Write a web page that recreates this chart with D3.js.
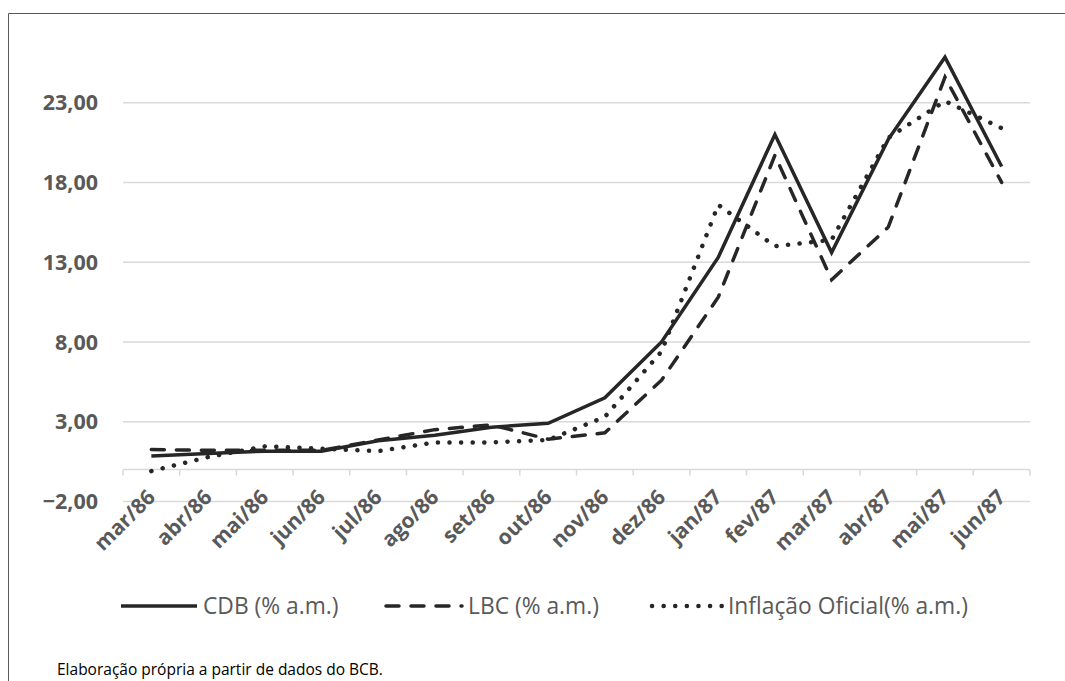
<!DOCTYPE html>
<html>
<head>
<meta charset="utf-8">
<script src="https://cdn.jsdelivr.net/npm/d3@7"></script>
<style>
  body { margin: 0; background: #fff; }
  svg { display: block; }
</style>
</head>
<body>
<svg id="chart" width="1065" height="681"></svg>
<script>
// meses (mar/86 - jun/87)
const months = ['mar/86', 'abr/86', 'mai/86', 'jun/86', 'jul/86', 'ago/86', 'set/86', 'out/86',
  'nov/86', 'dez/86', 'jan/87', 'fev/87', 'mar/87', 'abr/87', 'mai/87', 'jun/87'];

// % a.m.
const cdb = [0.85, 1.0, 1.15, 1.15, 1.8, 2.15, 2.65, 2.9, 4.5, 8.0, 13.3, 21.0, 13.6, 20.7, 25.85, 19.0];
const lbc = [1.25, 1.2, 1.2, 1.2, 1.85, 2.5, 2.8, 1.9, 2.3, 5.6, 10.8, 19.7, 11.9, 15.2, 24.6, 18.0];
const inflacao = [-0.1, 0.78, 1.45, 1.3, 1.15, 1.7, 1.7, 1.85, 3.3, 7.4, 16.6, 14.0, 14.4, 20.8, 23.1, 21.4];

const yTicks = [-2, 3, 8, 13, 18, 23];

const seriesNames = ['CDB (% a.m.)', 'LBC (% a.m.)', 'Inflação Oficial(% a.m.)'];

const svg = d3.select('#chart');
const textColor = '#595959';
const lineColor = '#262626';
const gridColor = '#d9d9d9';

// moldura
svg.append('path')
  .attr('d', 'M8.5,681 V13.5 H1065')
  .attr('fill', 'none')
  .attr('stroke', '#595959')
  .attr('stroke-width', 1);

const x = d3.scaleBand()
  .domain(months)
  .range([123, 1030]);

const y = d3.scaleLinear()
  .domain([-2, 27])
  .range([501.4, 38.9]);

const cx = d => x(d) + x.bandwidth() / 2;

// grade
svg.append('g')
  .selectAll('line')
  .data(yTicks)
  .enter()
  .append('line')
  .attr('x1', x.range()[0])
  .attr('x2', x.range()[1])
  .attr('y1', d => y(d))
  .attr('y2', d => y(d))
  .attr('stroke', gridColor)
  .attr('stroke-width', 1.5);

svg.append('g')
  .selectAll('text')
  .data(yTicks)
  .enter()
  .append('text')
  .attr('x', 98)
  .attr('y', d => y(d))
  .attr('dy', '0.36em')
  .attr('text-anchor', 'end')
  .attr('font-family', 'Open Sans')
  .attr('font-weight', 'bold')
  .attr('font-size', 21.5)
  .attr('fill', textColor)
  .text(d => d3.format('.2f')(d).replace('.', ','));

// eixo horizontal no zero
const axis = svg.append('g');
axis.append('line')
  .attr('x1', x.range()[0])
  .attr('x2', x.range()[1])
  .attr('y1', y(0))
  .attr('y2', y(0))
  .attr('stroke', gridColor)
  .attr('stroke-width', 1.5);

axis.selectAll('.tick')
  .data(months.map(m => x(m)).concat([x.range()[1]]))
  .enter()
  .append('line')
  .attr('class', 'tick')
  .attr('x1', d => d)
  .attr('x2', d => d)
  .attr('y1', y(0))
  .attr('y2', y(0) + 6)
  .attr('stroke', gridColor)
  .attr('stroke-width', 1.5);

// rotulos dos meses
svg.append('g')
  .selectAll('text')
  .data(months)
  .enter()
  .append('text')
  .attr('transform', d => `translate(${cx(d) - 6},${y(-2) - 14}) rotate(-45)`)
  .attr('dy', '0.75em')
  .attr('text-anchor', 'end')
  .attr('font-family', 'Open Sans')
  .attr('font-weight', 'bold')
  .attr('font-size', 21)
  .attr('fill', textColor)
  .text(d => d);

const styles = [
  { width: 3.5, dash: null, cap: 'butt' },
  { width: 3.5, dash: '13 12', cap: 'round' },
  { width: 4.5, dash: '0.1 11.5', cap: 'round' },
];

const line = d3.line()
  .x((d, i) => cx(months[i]))
  .y(d => y(d));

[cdb, lbc, inflacao].forEach((serie, k) =>
{
  svg.append('path')
    .datum(serie)
    .attr('fill', 'none')
    .attr('stroke', lineColor)
    .attr('stroke-width', styles[k].width)
    .attr('stroke-linejoin', 'miter')
    .attr('stroke-linecap', styles[k].cap)
    .attr('stroke-dasharray', styles[k].dash)
    .attr('d', line);
});

// legenda
const legendX = [121, 386, 650];
const legendW = [76, 76, 72];
const legendY = 606;
const legend = svg.append('g');
seriesNames.forEach((name, k) =>
{
  legend.append('line')
    .attr('x1', legendX[k] + (k === 2 ? 2 : 0))
    .attr('x2', legendX[k] + legendW[k])
    .attr('y1', legendY)
    .attr('y2', legendY)
    .attr('stroke', lineColor)
    .attr('stroke-width', styles[k].width)
    .attr('stroke-linecap', styles[k].cap)
    .attr('stroke-dasharray', styles[k].dash);

  legend.append('text')
    .attr('x', legendX[k] + legendW[k] + 6)
    .attr('y', legendY)
    .attr('dy', '0.35em')
    .attr('font-family', 'Open Sans')
    .attr('font-size', 22.8)
    .attr('fill', textColor)
    .text(name);
});

svg.append('text')
  .attr('x', 57)
  .attr('y', 675)
  .attr('font-family', 'Open Sans')
  .attr('font-size', 15.5)
  .attr('fill', '#000')
  .text('Elaboração própria a partir de dados do BCB.');
</script>
</body>
</html>
